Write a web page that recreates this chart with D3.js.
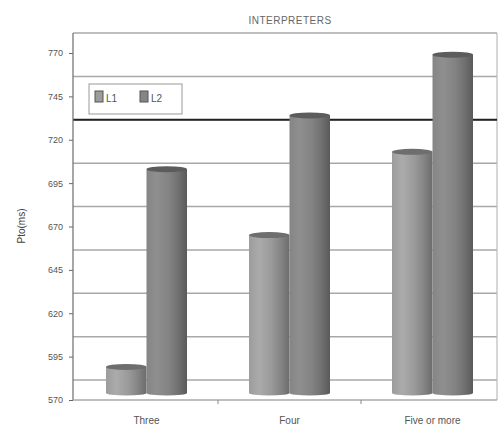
<!DOCTYPE html>
<head>
  <title>Interpreters</title>
  <meta charset="utf-8">
  <script src="https://cdn.jsdelivr.net/npm/d3@7"></script>
  <style>
    body { margin: 0; background: #fff; }
    text { font-family: "Liberation Sans", Arial, sans-serif; }
  </style>
</head>
<body>
<script>
    var categories = ["Three", "Four", "Five or more"];
    var seriesNames = ["L1", "L2"];
    var l1Values = [585, 661, 709];
    var l2Values = [699, 730, 765];
    var yTicks = [570, 595, 620, 645, 670, 695, 720, 745, 770];
    var refLine = 720;

    var width = 500, height = 432;
    var plotLeft = 73, plotRight = 497;
    var backShift = 20, barShift = 7;

    var svg = d3.select("body")
        .append("svg")
        .attr("width", width)
        .attr("height", height);

    var y = d3.scaleLinear().domain([570, 770]).range([400, 53]);
    var x0 = d3.scaleBand().domain(categories).range([75, 504]);
    var x1 = d3.scaleBand().domain(seriesNames).range([31, 112]);

    // gradients for the cylinders
    var defs = svg.append("defs");
    var shades = {
        L1: ["#9c9c9c", "#ababab", "#9a9a9a", "#858585", "#6c6c6c"],
        L2: ["#858585", "#8f8f8f", "#838383", "#717171", "#5a5a5a"]
    };
    seriesNames.forEach(function(s) {
        var g = defs.append("linearGradient").attr("id", "grad-" + s);
        var offs = ["0%", "25%", "55%", "78%", "100%"];
        shades[s].forEach(function(c, i) {
            g.append("stop").attr("offset", offs[i]).attr("stop-color", c);
        });
    });

    // back wall gridlines
    svg.selectAll(".grid")
        .data(yTicks)
        .enter()
        .append("line")
        .attr("x1", plotLeft)
        .attr("x2", plotRight)
        .attr("y1", function(d) { return y(d) - backShift; })
        .attr("y2", function(d) { return y(d) - backShift; })
        .attr("stroke", "#a8a8a8")
        .attr("stroke-width", 1.5);

    // right border
    svg.append("line")
        .attr("x1", plotRight).attr("x2", plotRight)
        .attr("y1", y(770) - backShift).attr("y2", y(570))
        .attr("stroke", "#bbb").attr("stroke-width", 1.2);

    // reference line at 720
    svg.append("line")
        .attr("x1", plotLeft)
        .attr("x2", plotRight)
        .attr("y1", y(refLine) - backShift)
        .attr("y2", y(refLine) - backShift)
        .attr("stroke", "#222")
        .attr("stroke-width", 2);

    // bars
    var rows = [];
    for (var i = 0; i < categories.length; i++) {
        rows.push({cat: categories[i], s: "L1", v: l1Values[i]});
        rows.push({cat: categories[i], s: "L2", v: l2Values[i]});
    }

    var bw = x1.bandwidth();
    var bars = svg.selectAll(".bar")
        .data(rows)
        .enter()
        .append("g")
        .attr("transform", function(d) { return "translate(" + (x0(d.cat) + x1(d.s)) + ",0)"; });

    bars.append("rect")
        .attr("x", 0)
        .attr("width", bw)
        .attr("y", function(d) { return y(d.v) - barShift; })
        .attr("height", function(d) { return y(570) - y(d.v); })
        .attr("fill", function(d) { return "url(#grad-" + d.s + ")"; });

    bars.append("ellipse")
        .attr("cx", bw / 2)
        .attr("cy", y(570) - barShift)
        .attr("rx", bw / 2)
        .attr("ry", 2.5)
        .attr("fill", function(d) { return "url(#grad-" + d.s + ")"; });

    bars.append("ellipse")
        .attr("cx", bw / 2)
        .attr("cy", function(d) { return y(d.v) - barShift; })
        .attr("rx", bw / 2)
        .attr("ry", 3)
        .attr("fill", function(d) { return d.s == "L1" ? "#6e6e6e" : "#5c5c5c"; });

    // axes
    var yAxis = d3.axisLeft(y).tickValues(yTicks).tickSize(4).tickPadding(6);
    var gy = svg.append("g")
        .attr("transform", "translate(" + plotLeft + ",0)")
        .call(yAxis);
    gy.select(".domain").remove();
    gy.selectAll(".tick line").attr("stroke", "#666");
    gy.selectAll("text").attr("fill", "#555").style("font-size", "9px");
    svg.append("line")
        .attr("x1", plotLeft).attr("x2", plotLeft)
        .attr("y1", y(770) - backShift).attr("y2", y(570))
        .attr("stroke", "#777").attr("stroke-width", 1.3);

    var xAxis = d3.axisBottom(x0).tickSize(0).tickPadding(17);
    var gx = svg.append("g")
        .attr("transform", "translate(0," + y(570) + ")")
        .call(xAxis);
    gx.select(".domain").remove();
    gx.selectAll("text").attr("fill", "#555").style("font-size", "10px");
    svg.append("line")
        .attr("x1", plotLeft).attr("x2", plotRight)
        .attr("y1", y(570)).attr("y2", y(570))
        .attr("stroke", "#aaa").attr("stroke-width", 1.5);
    svg.selectAll(".sep")
        .data(categories.slice(1))
        .enter()
        .append("line")
        .attr("x1", function(d) { return x0(d); })
        .attr("x2", function(d) { return x0(d); })
        .attr("y1", y(570))
        .attr("y2", y(570) + 4)
        .attr("stroke", "#888");

    // title and y label
    svg.append("text")
        .attr("x", 290)
        .attr("y", 24)
        .attr("text-anchor", "middle")
        .attr("fill", "#666")
        .style("font-size", "10px")
        .style("letter-spacing", "0.5px")
        .text("INTERPRETERS");

    svg.append("text")
        .attr("transform", "translate(25,226) rotate(-90)")
        .attr("text-anchor", "middle")
        .attr("fill", "#444")
        .style("font-size", "10px")
        .text("Pto(ms)");

    // legend
    var legend = svg.append("g").attr("id", "legend");
    legend.append("rect")
        .attr("x", 89).attr("y", 84)
        .attr("width", 93).attr("height", 30)
        .attr("fill", "#fff")
        .attr("stroke", "#999");
    for (let i = 0; i < seriesNames.length; i++) {
        legend.append("rect")
            .attr("x", 95 + i * 45)
            .attr("y", 91)
            .attr("width", 8)
            .attr("height", 11)
            .attr("fill", i == 0 ? "#9c9c9c" : "#858585")
            .attr("stroke", "#555");
        legend.append("text")
            .attr("x", 106 + i * 45)
            .attr("y", 102)
            .attr("fill", "#555")
            .style("font-size", "10px")
            .text(seriesNames[i]);
    }
</script>
</body>
